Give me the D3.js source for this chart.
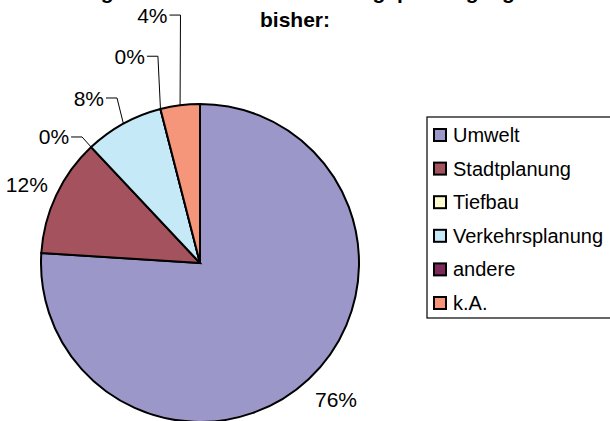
<!DOCTYPE html>
<meta charset="utf-8">
<style>
body { margin: 0; background: #fff; }
text { font-family: "Liberation Sans", Arial, sans-serif; fill: #000; }
.slice { stroke: #000; stroke-width: 2px; }
.leader { fill: none; stroke: #000; stroke-width: 1px; }
</style>
<body>
<script src="https://d3js.org/d3.v7.min.js"></script>
<script>

// data: number of answers per department (n = 25)
var categories = ["Umwelt", "Stadtplanung", "Tiefbau", "Verkehrsplanung", "andere", "k.A."];
var counts = [19, 3, 0, 2, 0, 1];
var colors = ["#9c97c9", "#a5525f", "#fffbd0", "#c6e9f8", "#7c2a5a", "#f5967a"];
var titleLines = ["Zuständigkeit für die Lärmminderungsplanung lag", "bisher:"];

// label placement (polar: degrees clockwise from top, distance from centre)
var labelAngle = [135.2, 294.3, 316.9, 333.3, 348.5, 355.5];
var labelDist  = [193, 190, 172.6, 184.7, 211, 248.7];
var hasLeader  = [false, false, true, true, true, true];

var width = 610, height = 421;
var cx = 200, cy = 263, r = 159;

var svg = d3.select("body").append("svg")
    .attr("width", width)
    .attr("height", height);

// title (first line sits mostly above the top edge, as in the original)
svg.append("text")
    .attr("x", 264).attr("y", -1.5)
    .attr("text-anchor", "middle")
    .style("font-size", "21px").style("font-weight", "bold")
    .text(titleLines[0]);
svg.append("text")
    .attr("x", 295).attr("y", 27)
    .attr("text-anchor", "middle")
    .style("font-size", "21px").style("font-weight", "bold")
    .text(titleLines[1]);

var total = d3.sum(counts);
var pie = d3.pie().sort(null).value(function(d) { return d; });
var arcs = pie(counts);
var arc = d3.arc().innerRadius(0).outerRadius(r);

var g = svg.append("g").attr("transform", "translate(" + cx + "," + cy + ")");

g.selectAll("path.slice")
    .data(arcs)
  .enter().append("path")
    .attr("class", "slice")
    .attr("fill", function(d, i) { return colors[i]; })
    .attr("d", arc);

function polar(angDeg, dist) {
  var a = angDeg * Math.PI / 180;
  return [dist * Math.sin(a), -dist * Math.cos(a)];
}

arcs.forEach(function(d, i) {
  var pct = Math.round(d.value / total * 100) + "%";
  var p = polar(labelAngle[i], labelDist[i]);
  if (hasLeader[i]) {
    var mid = (d.startAngle + d.endAngle) / 2;
    var on = [r * Math.sin(mid), -r * Math.cos(mid)];
    g.append("path")
        .attr("class", "leader")
        .attr("d", "M" + (p[0] - 11) + "," + p[1] + "L" + p[0] + "," + p[1] + "L" + on[0] + "," + on[1]);
    g.append("text")
        .attr("x", p[0] - 13).attr("y", p[1] + 7.5)
        .attr("text-anchor", "end")
        .style("font-size", "21px")
        .text(pct);
  } else {
    g.append("text")
        .attr("x", p[0]).attr("y", p[1] + 7.5)
        .attr("text-anchor", "middle")
        .style("font-size", "21px")
        .text(pct);
  }
});

// legend
var legend = svg.append("g").attr("transform", "translate(427,117)");
legend.append("rect")
    .attr("x", 0).attr("y", 0)
    .attr("width", 200).attr("height", 201)
    .attr("fill", "#fff")
    .attr("stroke", "#000").attr("stroke-width", 1.2);

var rowY = d3.scalePoint().domain(categories).range([18, 186]);

var rows = legend.selectAll("g.row")
    .data(categories)
  .enter().append("g")
    .attr("class", "row")
    .attr("transform", function(d) { return "translate(0," + rowY(d) + ")"; });

rows.append("rect")
    .attr("x", 7).attr("y", -6)
    .attr("width", 12).attr("height", 12)
    .attr("fill", function(d, i) { return colors[i]; })
    .attr("stroke", "#000").attr("stroke-width", 2);

rows.append("text")
    .attr("x", 26).attr("y", 7)
    .style("font-size", "20px")
    .text(function(d) { return d; });

</script>
</body>
